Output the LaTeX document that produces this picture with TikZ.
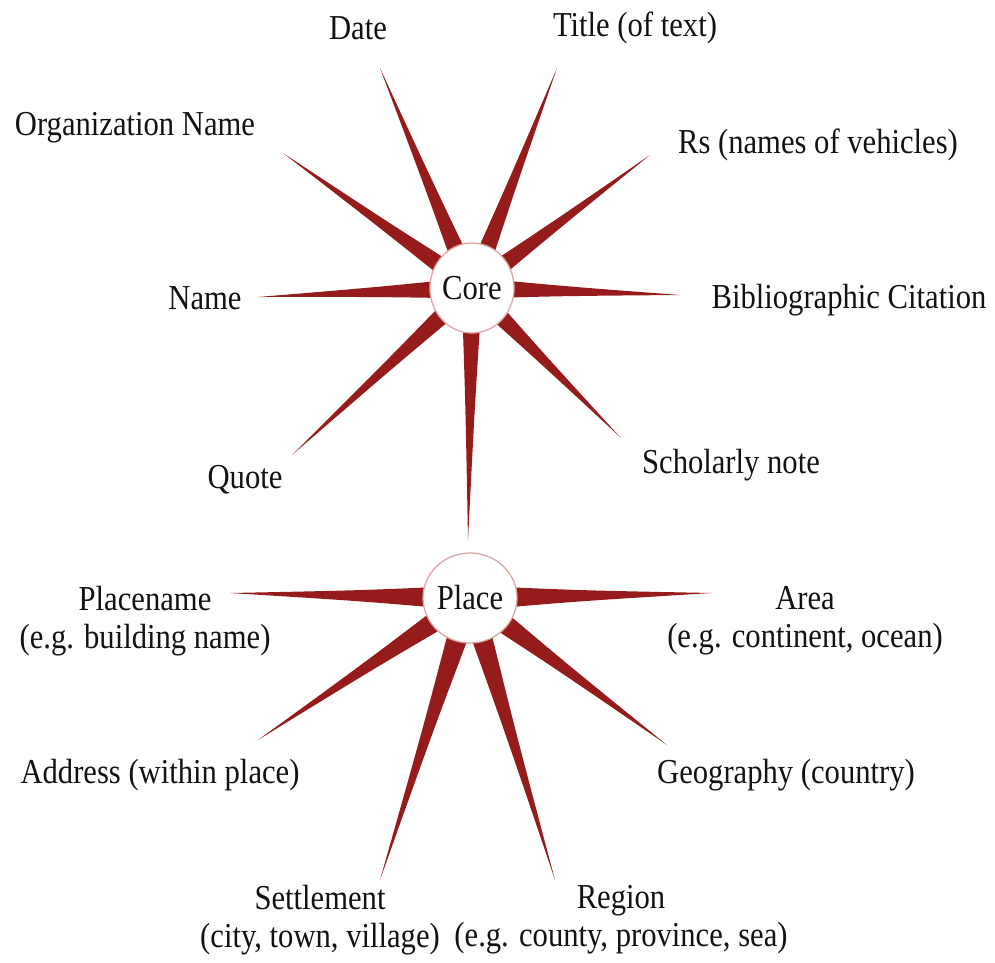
\documentclass[tikz,border=0pt]{standalone}
\usepackage{fontspec}
\setmainfont{Liberation Serif}[FakeStretch=0.875]
\usetikzlibrary{calc,shapes.geometric,backgrounds}
\definecolor{spikecol}{RGB}{150,28,28}
\definecolor{ringcol}{RGB}{222,165,165}
\definecolor{txt}{RGB}{18,18,18}
% spike from hub #1 to tip #2, base half-width #3, control half-width #4
\newcommand\spike[4]{%
  \coordinate (sm) at ($(#1)!0.45!(#2)$);
  \fill[spikecol] ($(#1)!#3!90:(#2)$) .. controls ($(sm)!#4!90:(#2)$) .. (#2)
     .. controls ($(sm)!#4!-90:(#2)$) .. ($(#1)!#3!-90:(#2)$) -- cycle;}
\begin{document}
\begin{tikzpicture}[x=1pt,y=-1pt,
  lbl/.style={font=\fontsize{35}{38}\selectfont, text=txt, align=center, inner sep=0pt},
  hub/.style={ellipse, draw=ringcol, line width=1.3pt, fill=white, inner sep=0pt,
    font=\fontsize{35}{38}\selectfont, text=txt}]
\useasboundingbox (0,0) rectangle (995,962);
% hubs
\node[hub, minimum width=78pt, minimum height=90pt] (core) at (472,288) {Core};
\node[hub, minimum width=94pt, minimum height=90pt] (place) at (470,598) {Place};
% tips
\coordinate (tdate) at (380,68);
\coordinate (ttitle) at (557,68);
\coordinate (torg) at (283,153);
\coordinate (trs) at (650,155);
\coordinate (tname) at (258,297);
\coordinate (tbib) at (680,295);
\coordinate (tquote) at (292,455);
\coordinate (tschol) at (620,437);
\coordinate (tdown) at (468,540);
\coordinate (tplacename) at (230,593);
\coordinate (tarea) at (712,593);
\coordinate (taddr) at (258,740);
\coordinate (tgeo) at (667,745);
\coordinate (tsettle) at (380,880);
\coordinate (tregion) at (555,880);
\begin{scope}[on background layer]
  \foreach \t in {tdate,ttitle,torg,trs,tname,tbib,tquote,tschol,tdown}{\spike{core.center}{\t}{10.5pt}{4.8pt}}
  \foreach \t in {tplacename,tarea,taddr,tgeo,tsettle,tregion}{\spike{place.center}{\t}{12.5pt}{5.4pt}}
\end{scope}
% labels
\node[lbl] (date) at (358,28) {Date};
\node[lbl] (title) at (635,28) {Title (of text)};
\node[lbl] (org) at (135,128) {Organization Name};
\node[lbl] (rs) at (818,145) {Rs (names of vehicles)};
\node[lbl] (name) at (205,298) {Name};
\node[lbl] (bib) at (849,300) {Bibliographic Citation};
\node[lbl] (quote) at (245,480) {Quote};
\node[lbl] (schol) at (731,465) {Scholarly note};
\node[lbl] (placename) at (145,621) {Placename\\(e.g. building name)};
\node[lbl] (area) at (805,621) {Area\\(e.g. continent, ocean)};
\node[lbl] (addr) at (160,775) {Address (within place)};
\node[lbl] (geo) at (786,775) {Geography (country)};
\node[lbl] (settle) at (320,920) {Settlement\\(city, town, village)};
\node[lbl] (region) at (621,920) {Region\\(e.g. county, province, sea)};
\end{tikzpicture}
\end{document}
